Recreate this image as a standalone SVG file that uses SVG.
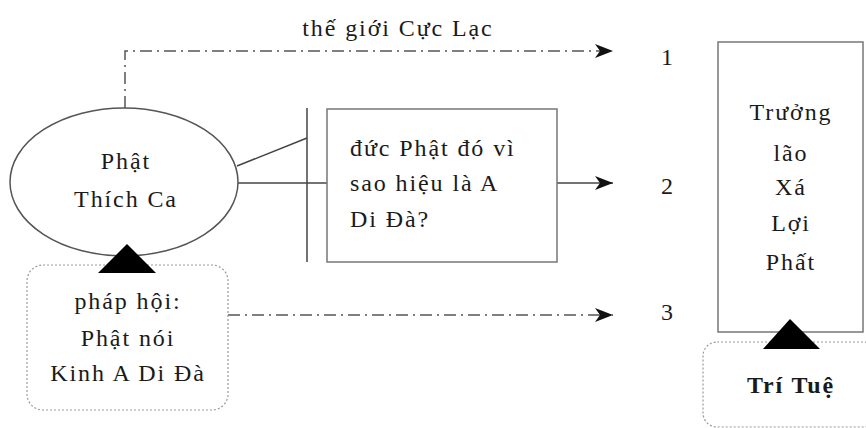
<svg xmlns="http://www.w3.org/2000/svg" width="866" height="428" viewBox="0 0 866 428">
<defs>
<marker id="arr" markerWidth="18" markerHeight="14" refX="18" refY="7" orient="auto" markerUnits="userSpaceOnUse">
<path d="M0,0 L18,7 L0,14 L5,7 Z" fill="#111"/>
</marker>
<style>
text{font-family:"Liberation Serif","Times New Roman","DejaVu Serif",serif;font-size:24px;fill:#1a1a1a;letter-spacing:1.9px}
.t{text-anchor:middle}
.ln{stroke:#444;stroke-width:1.5;fill:none}
.dd{stroke:#555;stroke-width:1.5;fill:none;stroke-dasharray:12,5,2,5}
.box{fill:#fff;stroke:#777;stroke-width:1.5}
.dot{fill:#fff;stroke:#999;stroke-width:1.2;stroke-dasharray:2,2}
</style>
</defs>
<rect width="866" height="428" fill="#fff"/>
<g id="connectors">
<polyline class="dd" points="125,108 125,51 613,51" marker-end="url(#arr)"/>
<line class="ln" x1="237" y1="166" x2="307" y2="138"/>
<line class="ln" x1="238" y1="183" x2="327" y2="183"/>
<line class="ln" x1="307" y1="108" x2="307" y2="262"/>
<line class="ln" x1="557" y1="183" x2="613" y2="183" marker-end="url(#arr)"/>
<line class="dd" x1="228" y1="315" x2="613" y2="315" marker-end="url(#arr)"/>
</g>
<g id="label-top"><text class="t" x="398" y="36">thế giới Cực Lạc</text></g>
<g id="ellipse-node">
<ellipse cx="124" cy="182" rx="114" ry="74" fill="#fff" stroke="#555" stroke-width="1.5"/>
<text class="t" x="126" y="169">Phật</text>
<text class="t" x="126" y="207">Thích Ca</text>
</g>
<g id="phap-hoi">
<rect class="dot" x="27" y="265" width="201" height="145" rx="16"/>
<polygon points="127,244 98,273 156,273" fill="#000"/>
<text class="t" x="128" y="309">pháp hội:</text>
<text class="t" x="128" y="346">Phật nói</text>
<text class="t" x="128" y="381">Kinh A Di Đà</text>
</g>
<g id="question-box">
<rect class="box" x="327" y="109" width="230" height="153"/>
<text x="350" y="156">đức Phật đó vì</text>
<text x="350" y="191">sao hiệu là A</text>
<text x="350" y="227">Di Đà?</text>
</g>
<g id="num1"><text class="t" x="668" y="65">1</text></g>
<g id="num2"><text class="t" x="668" y="194">2</text></g>
<g id="num3"><text class="t" x="668" y="320">3</text></g>
<g id="truong-lao">
<rect class="box" x="718" y="42" width="145" height="290"/>
<text class="t" x="791" y="120">Trưởng</text>
<text class="t" x="791" y="161">lão</text>
<text class="t" x="791" y="195">Xá</text>
<text class="t" x="791" y="231">Lợi</text>
<text class="t" x="791" y="270">Phất</text>
</g>
<g id="tri-tue">
<rect class="dot" x="703" y="342" width="175" height="85" rx="14"/>
<polygon points="790,319 763,349 820,349" fill="#000"/>
<text class="t" x="791" y="393" font-weight="bold">Trí Tuệ</text>
</g>
</svg>
